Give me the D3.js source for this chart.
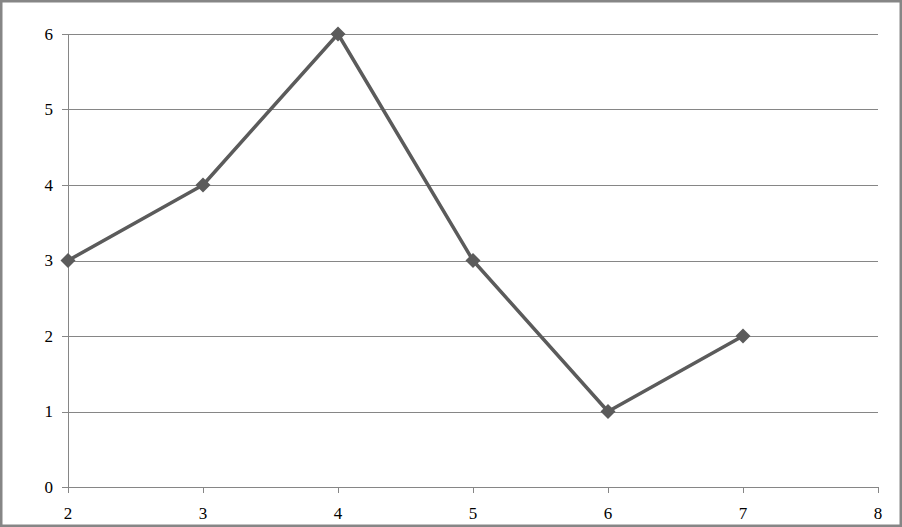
<!DOCTYPE html>
<html><head><meta charset="utf-8">
<script src="https://cdn.jsdelivr.net/npm/d3@7"></script>
<style>html,body{margin:0;padding:0;background:#fff;}svg{display:block;}</style>
</head><body>
<script>
const xValues = [2, 3, 4, 5, 6, 7];
const yValues = [3, 4, 6, 3, 1, 2];
const xTicks = [2, 3, 4, 5, 6, 7, 8];
const yTicks = [0, 1, 2, 3, 4, 5, 6];

const W = 902, H = 527;
const svg = d3.select("body").append("svg").attr("width", W).attr("height", H);
svg.append("rect").attr("x", 1.25).attr("y", 1.25).attr("width", W - 2.5).attr("height", H - 2.5)
  .attr("fill", "#fff").attr("stroke", "#868686").attr("stroke-width", 2.5);

const x = d3.scaleLinear().domain([2, 8]).range([68, 878]);
const y = d3.scaleLinear().domain([0, 6]).range([487, 34]);

svg.append("g").selectAll("line").data(yTicks).join("line")
  .attr("x1", 62).attr("x2", 878)
  .attr("y1", d => Math.round(y(d)) + 0.5).attr("y2", d => Math.round(y(d)) + 0.5)
  .attr("stroke", "#868686").attr("stroke-width", 1);

svg.append("line").attr("x1", 68.5).attr("x2", 68.5).attr("y1", y(6)).attr("y2", 487.5)
  .attr("stroke", "#868686");

svg.append("g").selectAll("line").data(xTicks).join("line")
  .attr("x1", d => Math.round(x(d)) + 0.5).attr("x2", d => Math.round(x(d)) + 0.5)
  .attr("y1", 487).attr("y2", 493)
  .attr("stroke", "#868686");

svg.append("g").selectAll("text").data(yTicks).join("text")
  .attr("x", 53).attr("y", d => y(d)).attr("dy", "0.35em")
  .attr("text-anchor", "end").attr("fill", "#000")
  .style("font-family", "Liberation Serif").style("font-size", "17px")
  .text(d => d);

svg.append("g").selectAll("text").data(xTicks).join("text")
  .attr("x", d => x(d)).attr("y", 519)
  .attr("text-anchor", "middle").attr("fill", "#000")
  .style("font-family", "Liberation Serif").style("font-size", "17px")
  .text(d => d);

const pts = xValues.map((v, i) => [v, yValues[i]]);
svg.append("path").datum(pts)
  .attr("d", d3.line().x(d => x(d[0])).y(d => y(d[1])))
  .attr("fill", "none").attr("stroke", "#5b5b5b").attr("stroke-width", 3.5)
  .attr("stroke-linejoin", "round");

svg.append("g").selectAll("path").data(pts).join("path")
  .attr("transform", d => `translate(${x(d[0])},${y(d[1])})`)
  .attr("d", "M0,-7.5L7.5,0L0,7.5L-7.5,0Z")
  .attr("fill", "#5b5b5b");
</script>
</body></html>
